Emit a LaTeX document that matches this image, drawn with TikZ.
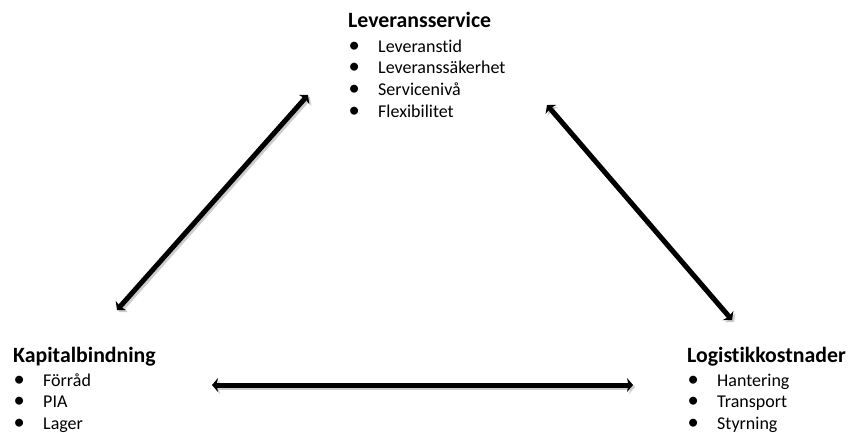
\documentclass[tikz,border=0pt]{standalone}
\usepackage{fontspec}
\setmainfont{Carlito}[Ligatures=CommonOff]
\usetikzlibrary{arrows.meta}
\begin{document}
\begin{tikzpicture}[x=1pt,y=-1pt,
  title/.style={anchor=base west,inner sep=0pt,font=\fontsize{21.8}{25}\selectfont\bfseries},
  item/.style={anchor=base west,inner sep=0pt,font=\fontsize{18}{21.7}\selectfont},
  dbl/.style={line width=5pt,{Stealth[length=6pt,width=14pt,inset=1.5pt]}-{Stealth[length=6pt,width=14pt,inset=1.5pt]},
    preaction={draw=black!20,line width=5pt,transform canvas={shift={(2pt,-2pt)}}}}
]
\newcommand{\itm}[1]{\makebox[30pt][l]{\hspace*{0.5pt}\scalebox{1.25}{\textbullet}}#1}
\useasboundingbox (0,0) rectangle (848,432);
% top block
\node[title] (tt) at (348,27) {Leveransservice};
\node[item] (t1) at (348,52) {\itm{Leveranstid}};
\node[item] (t2) at (348,73.7) {\itm{Leveranssäkerhet}};
\node[item] (t3) at (348,95.4) {\itm{Servicenivå}};
\node[item] (t4) at (348,117.1) {\itm{Flexibilitet}};
% left block
\node[title] (lt) at (13,362) {Kapitalbindning};
\node[item] (l1) at (13,386) {\itm{Förråd}};
\node[item] (l2) at (13,407.7) {\itm{PIA}};
\node[item] (l3) at (13,429.4) {\itm{Lager}};
% right block
\node[title] (rt) at (687,362) {Logistikkostnader};
\node[item] (r1) at (687,386) {\itm{Hantering}};
\node[item] (r2) at (687,407.7) {\itm{Transport}};
\node[item] (r3) at (687,429.4) {\itm{Styrning}};
% arrow ends
\coordinate (a1) at (117,310);
\coordinate (a2) at (308,95);
\coordinate (b1) at (547,105);
\coordinate (b2) at (732,320);
\coordinate (c1) at (212,385);
\coordinate (c2) at (633,385);
\draw[dbl] (a1) -- (a2);
\draw[dbl] (b1) -- (b2);
\draw[dbl] (c1) -- (c2);
\end{tikzpicture}
\end{document}
